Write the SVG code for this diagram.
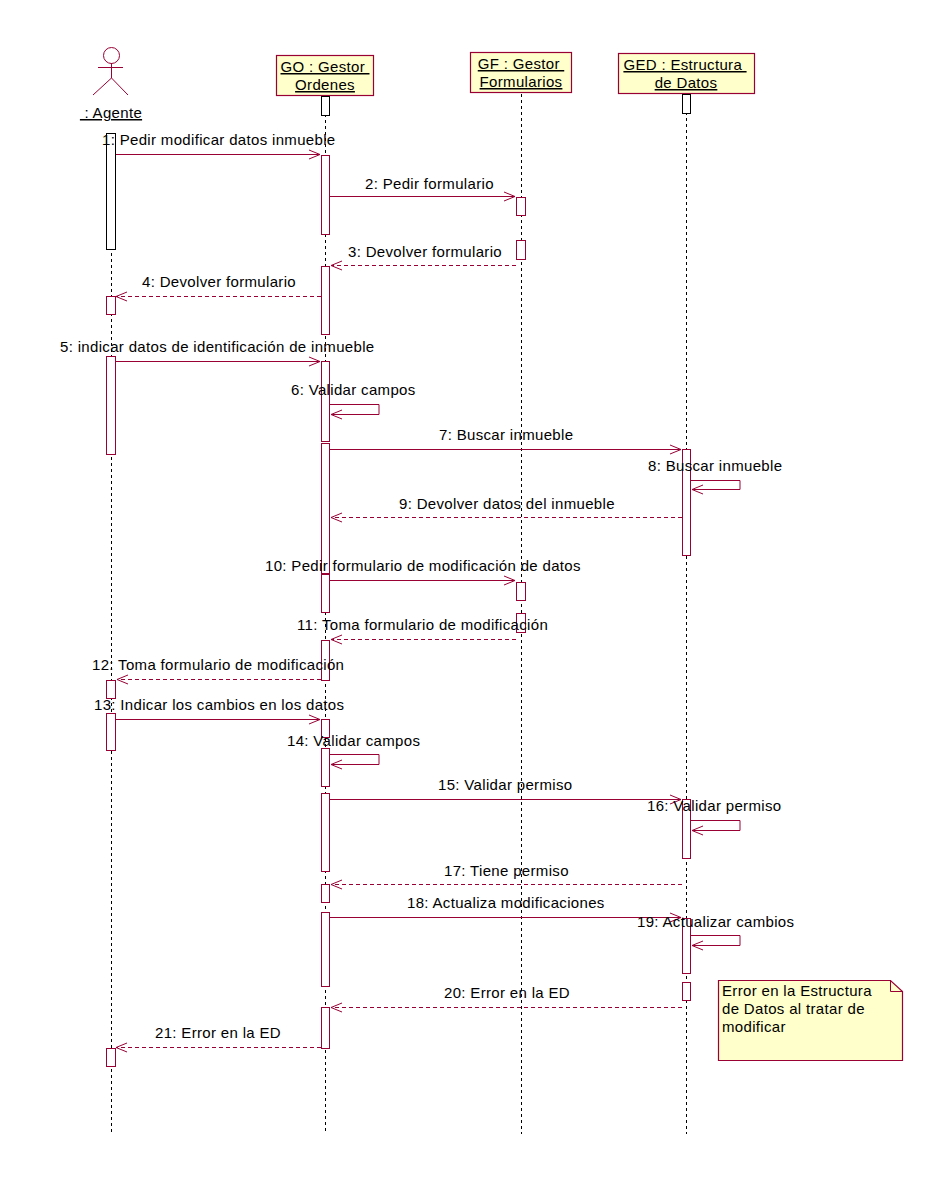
<svg xmlns="http://www.w3.org/2000/svg" width="949" height="1187" viewBox="0 0 949 1187">
<style>
text{font-family:"Liberation Sans",Arial,sans-serif;font-size:15px;letter-spacing:.33px;fill:#000;white-space:pre}
.u{text-decoration:underline;text-anchor:middle}
.s{fill:none;stroke:#990033;stroke-width:1}
.node{fill:#ffffcc;stroke:#990033;stroke-width:1.2}
.life{stroke:#000;stroke-width:1;stroke-dasharray:3 3;fill:none}
.a{fill:#fff;stroke:#990033;stroke-width:1}
.b{fill:#fff;stroke:#000;stroke-width:1}
.m{fill:none;stroke:#990033;stroke-width:1;marker-end:url(#h)}
.d{fill:none;stroke:#990033;stroke-width:1;stroke-dasharray:4 3;marker-end:url(#h)}
</style>
<defs>
<marker id="h" viewBox="0 0 12 12" refX="11" refY="6" markerWidth="12" markerHeight="12" markerUnits="userSpaceOnUse" orient="auto"><path d="M0 1.5L11 6L0 10.5" fill="none" stroke="#990033" stroke-width="1" stroke-dasharray="none"/></marker>
</defs>
<rect width="949" height="1187" fill="#fff"/>
<g id="lifelines">
<path class="life" d="M111.500 133V1132M325.500 96V1132M521.500 94V1134M686.500 94V1134"/>
</g>
<g id="agente">
<circle class="s" cx="111.500" cy="55.500" r="8"/>
<path class="s" d="M98 67.500H123M111.500 63V78M111.500 78L93 95M111.500 78L128 95"/>
<text class="u" x="111" y="118"> : Agente</text>
<rect class="b" x="106.500" y="133.500" width="9" height="116"/>
<rect class="a" x="106.500" y="296.500" width="9" height="18"/>
<rect class="a" x="106.500" y="356.500" width="9" height="98"/>
<rect class="a" x="106.500" y="680.500" width="9" height="18"/>
<rect class="a" x="106.500" y="713.500" width="9" height="37"/>
<rect class="a" x="106.500" y="1048.500" width="9" height="18"/>
</g>
<g id="go">
<rect class="node" x="276.500" y="55.500" width="97" height="40"/>
<text class="u" x="325" y="72">GO : Gestor </text>
<text class="u" x="325" y="90">Ordenes</text>
<rect class="b" x="321.500" y="96.500" width="8" height="19"/>
<rect class="a" x="321.500" y="155.500" width="8" height="79"/>
<rect class="a" x="321.500" y="266.500" width="8" height="68"/>
<rect class="a" x="321.500" y="361.500" width="8" height="80"/>
<rect class="a" x="321.500" y="443.500" width="8" height="130"/>
<rect class="a" x="321.500" y="574.500" width="8" height="38"/>
<rect class="a" x="321.500" y="640.500" width="8" height="40"/>
<rect class="a" x="321.500" y="719.500" width="8" height="18"/>
<rect class="a" x="321.500" y="748.500" width="8" height="38"/>
<rect class="a" x="321.500" y="793.500" width="8" height="78"/>
<rect class="a" x="321.500" y="884.500" width="8" height="18"/>
<rect class="a" x="321.500" y="912.500" width="8" height="74"/>
<rect class="a" x="321.500" y="1007.500" width="8" height="41"/>
</g>
<g id="gf">
<rect class="node" x="470.500" y="52.500" width="101" height="40"/>
<text class="u" x="521" y="69">GF : Gestor </text>
<text class="u" x="521" y="87">Formularios</text>
<rect class="a" x="516.500" y="197.500" width="9" height="18"/>
<rect class="a" x="516.500" y="240.500" width="9" height="19"/>
<rect class="a" x="516.500" y="582.500" width="9" height="18"/>
<rect class="a" x="516.500" y="613.500" width="9" height="19"/>
</g>
<g id="ged">
<rect class="node" x="618.500" y="53.500" width="136" height="40"/>
<text class="u" x="685" y="70">GED : Estructura </text>
<text class="u" x="686" y="88">de Datos</text>
<rect class="b" x="682.500" y="94.500" width="8" height="19"/>
<rect class="a" x="682.500" y="449.500" width="8" height="106"/>
<rect class="a" x="682.500" y="799.500" width="8" height="59"/>
<rect class="a" x="682.500" y="918.500" width="8" height="55"/>
<rect class="a" x="682.500" y="982.500" width="8" height="18"/>
</g>
<g id="note">
<path class="node" d="M718.500 980.500H890.500L902.500 991.500V1060.500H718.500Z"/>
<path class="s" d="M890.500 980.500V991.500H902.500"/>
<text x="722" y="996">Error en la Estructura</text>
<text x="722" y="1014">de Datos al tratar de</text>
<text x="722" y="1032">modificar</text>
</g>
<g id="connectors">
<path class="m" d="M116 154.500H320"/>
<path class="m" d="M330 196.500H515"/>
<path class="d" d="M516 265.500H331"/>
<path class="d" d="M321 296.500H116"/>
<path class="m" d="M116 361.500H320"/>
<path class="m" d="M330 404.500H379V414.500H331"/>
<path class="m" d="M330 449.500H681"/>
<path class="m" d="M691 480.500H740V489.500H692"/>
<path class="d" d="M682 517.500H331"/>
<path class="m" d="M330 580.500H515"/>
<path class="d" d="M516 639.500H331"/>
<path class="d" d="M321 679.500H117"/>
<path class="m" d="M116 719.500H320"/>
<path class="m" d="M330 754.500H379V764.500H331"/>
<path class="m" d="M330 799.500H681"/>
<path class="m" d="M691 820.500H740V830.500H692"/>
<path class="d" d="M682 884.500H331"/>
<path class="m" d="M330 917.500H681"/>
<path class="m" d="M691 935.500H740V945.500H692"/>
<path class="d" d="M682 1007.500H331"/>
<path class="d" d="M321 1047.500H116"/>
</g>
<g id="labels">
<text x="102" y="145">1: Pedir modificar datos inmueble</text>
<text x="365" y="189">2: Pedir formulario</text>
<text x="348" y="257">3: Devolver formulario</text>
<text x="142" y="287">4: Devolver formulario</text>
<text x="60" y="352">5: indicar datos de identificación de inmueble</text>
<text x="291" y="395">6: Validar campos</text>
<text x="439" y="440">7: Buscar inmueble</text>
<text x="648" y="471">8: Buscar inmueble</text>
<text x="399" y="509">9: Devolver datos del inmueble</text>
<text x="265" y="571">10: Pedir formulario de modificación de datos</text>
<text x="297" y="630">11: Toma formulario de modificación</text>
<text x="92" y="670">12: Toma formulario de modificación</text>
<text x="94" y="710">13: Indicar los cambios en los datos</text>
<text x="287" y="746">14: Validar campos</text>
<text x="438" y="790">15: Validar permiso</text>
<text x="647" y="811">16: Validar permiso</text>
<text x="444" y="876">17: Tiene permiso</text>
<text x="407" y="908">18: Actualiza modificaciones</text>
<text x="637" y="927">19: Actualizar cambios</text>
<text x="444" y="998">20: Error en la ED</text>
<text x="155" y="1038">21: Error en la ED</text>
</g>
</svg>
